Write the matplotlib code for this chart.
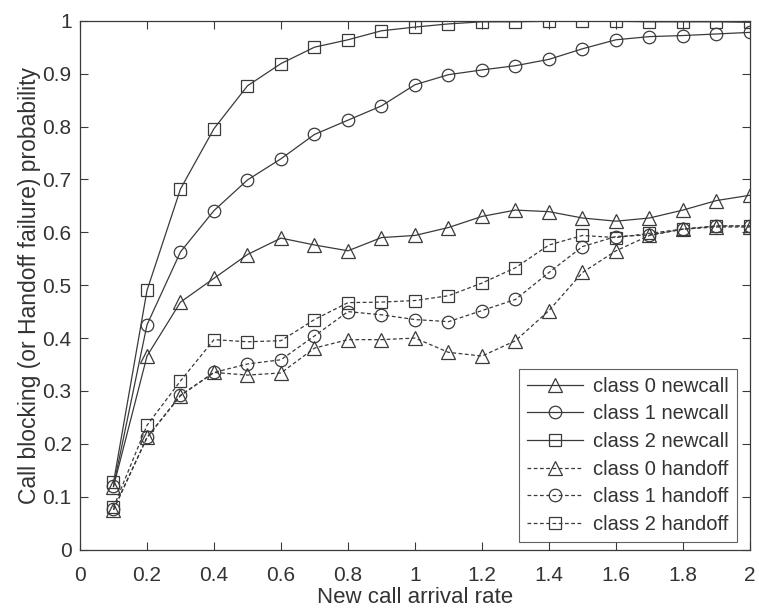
#!/usr/bin/env python3
"""
Blocking / handoff failure probability vs. new call arrival rate
"""

import matplotlib
matplotlib.use('Agg')
import matplotlib.pyplot as plt

plt.rcParams['font.family'] = ['Liberation Sans', 'DejaVu Sans']

arrival_rate = [0.1, 0.2, 0.3, 0.4, 0.5, 0.6, 0.7, 0.8, 0.9, 1.0,
                1.1, 1.2, 1.3, 1.4, 1.5, 1.6, 1.7, 1.8, 1.9, 2.0]

# new call blocking probability per class
class0_newcall = [0.119, 0.366, 0.468, 0.513, 0.558, 0.589, 0.576, 0.565, 0.590, 0.594,
                  0.609, 0.630, 0.642, 0.639, 0.627, 0.621, 0.627, 0.642, 0.660, 0.670]
class1_newcall = [0.120, 0.425, 0.563, 0.641, 0.699, 0.739, 0.785, 0.812, 0.839, 0.879,
                  0.898, 0.907, 0.915, 0.927, 0.947, 0.964, 0.970, 0.972, 0.975, 0.978]
class2_newcall = [0.127, 0.490, 0.682, 0.796, 0.877, 0.919, 0.950, 0.964, 0.981, 0.988,
                  0.994, 0.998, 0.998, 0.999, 0.999, 0.999, 0.998, 0.998, 0.998, 0.997]

# handoff failure probability per class
class0_handoff = [0.075, 0.212, 0.291, 0.335, 0.330, 0.334, 0.381, 0.397, 0.397, 0.400,
                  0.373, 0.366, 0.395, 0.452, 0.524, 0.565, 0.594, 0.606, 0.610, 0.610]
class1_handoff = [0.076, 0.212, 0.292, 0.335, 0.351, 0.359, 0.404, 0.450, 0.444, 0.435,
                  0.431, 0.452, 0.473, 0.524, 0.573, 0.592, 0.595, 0.606, 0.612, 0.612]
class2_handoff = [0.080, 0.235, 0.319, 0.397, 0.393, 0.395, 0.435, 0.467, 0.468, 0.471,
                  0.480, 0.504, 0.533, 0.576, 0.594, 0.590, 0.598, 0.606, 0.612, 0.612]

x_ticks = [0, 0.2, 0.4, 0.6, 0.8, 1, 1.2, 1.4, 1.6, 1.8, 2]
x_tick_labels = ['0', '0.2', '0.4', '0.6', '0.8', '1', '1.2', '1.4', '1.6', '1.8', '2']
y_ticks = [0, 0.1, 0.2, 0.3, 0.4, 0.5, 0.6, 0.7, 0.8, 0.9, 1]
y_tick_labels = ['0', '0.1', '0.2', '0.3', '0.4', '0.5', '0.6', '0.7', '0.8', '0.9', '1']

INK = '#3a3a3a'
TEXT = '#333333'

fig = plt.figure(figsize=(7.59, 6.10), dpi=100)
ax = fig.add_axes([0.1054, 0.099, 0.8827, 0.867])

series = [
    (class0_newcall, '^', '-', 'class 0 newcall'),
    (class1_newcall, 'o', '-', 'class 1 newcall'),
    (class2_newcall, 's', '-', 'class 2 newcall'),
    (class0_handoff, '^', '--', 'class 0 handoff'),
    (class1_handoff, 'o', '--', 'class 1 handoff'),
    (class2_handoff, 's', '--', 'class 2 handoff'),
]
for values, marker, style, label in series:
    ms = 10 if marker == '^' else 9
    ax.plot(arrival_rate, values, linestyle=style, marker=marker, color=INK,
            markerfacecolor='none', markeredgecolor=INK, markersize=ms,
            markeredgewidth=0.9, linewidth=0.9,
            dashes=(3, 2) if style == '--' else (None, None), label=label)

ax.set_xlim(0, 2)
ax.set_ylim(0, 1)
ax.set_xticks(x_ticks)
ax.set_xticklabels(x_tick_labels)
ax.set_yticks(y_ticks)
ax.set_yticklabels(y_tick_labels)
ax.tick_params(direction='in', top=True, right=True, length=6, width=0.8,
               colors=INK, labelsize=15, labelcolor=TEXT)
ax.tick_params(axis='x', pad=12)
ax.tick_params(axis='y', pad=6)
for spine in ax.spines.values():
    spine.set_color(INK)
    spine.set_linewidth(0.9)

ax.set_xlabel('New call arrival rate', fontsize=16, color=TEXT, labelpad=1)
ax.set_ylabel('Call blocking (or Handoff failure) probability', fontsize=16.5,
              color=TEXT, labelpad=1)

leg = ax.legend(loc='lower right', bbox_to_anchor=(0.9806, 0.0144),
                borderaxespad=0, fontsize=14.5, frameon=True, fancybox=False,
                edgecolor=INK, handlelength=2.8, handletextpad=0.5,
                labelspacing=0.43, borderpad=0.4, labelcolor=TEXT)
leg.get_frame().set_linewidth(0.8)

fig.savefig('out.png', dpi=100)
plt.close(fig)
